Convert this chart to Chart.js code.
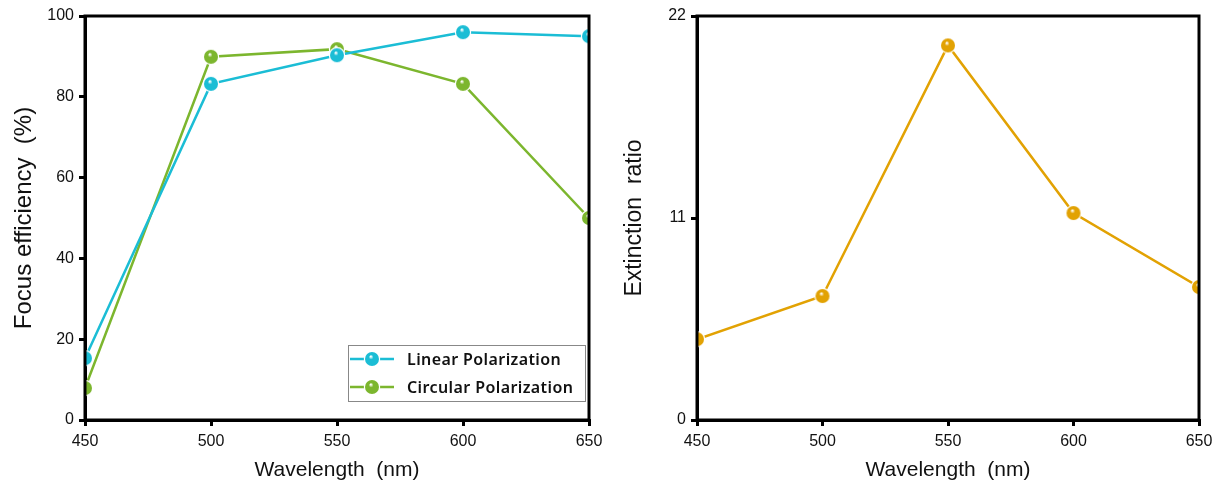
<!DOCTYPE html>
<html>
<head>
<meta charset="utf-8">
<script src="https://cdn.jsdelivr.net/npm/chart.js@4.4.1/dist/chart.umd.min.js"></script>
<style>
  body { margin: 0; background: #fff; }
  #wrap { position: relative; width: 1222px; height: 487px; }
  canvas { position: absolute; top: 0; }
  #left { left: 0; }
  #right { left: 611px; }
</style>
</head>
<body>
<div id="wrap">
  <canvas id="left" width="611" height="487"></canvas>
  <canvas id="right" width="611" height="487"></canvas>
</div>
<script>
// data
const wavelengths = [450, 500, 550, 600, 650];
const linearPol = [15.3, 83.2, 90.3, 96.0, 95.0];
const circularPol = [7.9, 89.9, 91.8, 83.2, 50.0];
const extinctionRatio = [4.4, 6.75, 20.4, 11.27, 7.24];
const effTicks = [0, 20, 40, 60, 80, 100];
const ratioTicks = [0, 11, 22];

const CYAN = '#1bbdd5';
const GREEN = '#7cb62e';
const ORANGE = '#e2a203';
const FONT = '"Liberation Sans", Arial, sans-serif';

// little shaded ball used as marker
function makeBall(color, r) {
    const c = document.createElement('canvas');
    const size = Math.ceil(r * 2 + 4);
    c.width = size;
    c.height = size;
    const g = c.getContext('2d');
    const m = size / 2;
    g.beginPath();
    g.arc(m, m, r + 1.2, 0, Math.PI * 2);
    g.fillStyle = '#fff';
    g.fill();
    const grad = g.createRadialGradient(m - 1.2, m - 2.6, 0.4, m, m, r);
    grad.addColorStop(0, '#ffffff');
    grad.addColorStop(0.3, color);
    grad.addColorStop(1, color);
    g.beginPath();
    g.arc(m, m, r, 0, Math.PI * 2);
    g.fillStyle = grad;
    g.fill();
    return c;
}

function toPoints(ys) {
    return wavelengths.map((x, i) => ({ x: x, y: ys[i] }));
}

function lineSet(label, ys, color) {
    return {
        label: label,
        data: toPoints(ys),
        borderColor: color,
        backgroundColor: color,
        borderWidth: 2.5,
        pointStyle: makeBall(color, 7),
        pointRadius: 7,
        tension: 0,
        clip: 0
    };
}

// frame round the plot area
const framePlugin = {
    id: 'frame',
    afterDatasetsDraw(chart) {
        const a = chart.chartArea;
        const ctx = chart.ctx;
        ctx.save();
        ctx.strokeStyle = '#000';
        ctx.lineWidth = 3;
        ctx.strokeRect(a.left, a.top, a.right - a.left, a.bottom - a.top);
        ctx.restore();
    }
};

// boxed legend inside the lower right of the left plot
const boxLegend = {
    id: 'boxLegend',
    afterDraw(chart) {
        const ctx = chart.ctx;
        const x0 = 348, y0 = 345, w = 237, h = 56;
        ctx.save();
        ctx.fillStyle = '#fff';
        ctx.fillRect(x0, y0, w, h);
        ctx.strokeStyle = '#888';
        ctx.lineWidth = 1;
        ctx.strokeRect(x0 + 0.5, y0 + 0.5, w, h);
        chart.data.datasets.forEach((ds, i) => {
            const cy = 359 + i * 28;
            ctx.strokeStyle = ds.borderColor;
            ctx.lineWidth = 2.5;
            ctx.beginPath();
            ctx.moveTo(350, cy);
            ctx.lineTo(394, cy);
            ctx.stroke();
            const img = ds.pointStyle;
            ctx.drawImage(img, 372 - img.width / 2, cy - img.height / 2);
            ctx.fillStyle = '#111';
            ctx.font = '600 16px "Noto Sans", sans-serif';
            ctx.letterSpacing = '0.4px';
            ctx.textBaseline = 'middle';
            ctx.fillText(ds.label, 407, cy + 1);
        });
        ctx.restore();
    }
};

function axisX() {
    return {
        type: 'linear',
        min: 450,
        max: 650,
        afterFit(scale) { scale.height = 67; },
        afterBuildTicks(scale) { scale.ticks = wavelengths.map(v => ({ value: v })); },
        border: { color: '#000', width: 3 },
        grid: { drawOnChartArea: false, color: '#000', lineWidth: 3, tickLength: 6 },
        ticks: { color: '#111', font: { family: FONT, size: 16 }, padding: 6, maxRotation: 0 },
        title: {
            display: true,
            text: 'Wavelength  (nm)',
            color: '#111',
            font: { family: FONT, size: 21 },
            padding: { top: 0, bottom: 4 }
        }
    };
}

function axisY(ticks, title, width, size) {
    return {
        min: ticks[0],
        max: ticks[ticks.length - 1],
        afterFit(scale) { scale.width = width; },
        afterBuildTicks(scale) { scale.ticks = ticks.map(v => ({ value: v })); },
        border: { color: '#000', width: 3 },
        grid: { drawOnChartArea: false, color: '#000', lineWidth: 3, tickLength: 6 },
        ticks: { color: '#111', font: { family: FONT, size: 16 }, padding: 5 },
        title: {
            display: true,
            text: title,
            color: '#111',
            font: { family: FONT, size: size },
            padding: { top: 10, bottom: 0 }
        }
    };
}

const common = {
    responsive: false,
    animation: false,
    events: [],
    plugins: { legend: { display: false }, tooltip: { enabled: false } }
};

new Chart(document.getElementById('left'), {
    type: 'line',
    data: {
        datasets: [
            lineSet('Linear Polarization', linearPol, CYAN),
            lineSet('Circular Polarization', circularPol, GREEN)
        ]
    },
    options: Object.assign({}, common, {
        layout: { padding: { top: 16, right: 22, left: 0, bottom: 0 } },
        scales: { x: axisX(), y: axisY(effTicks, 'Focus efficiency  (%)', 85, 24) }
    }),
    plugins: [framePlugin, boxLegend]
});

new Chart(document.getElementById('right'), {
    type: 'line',
    data: {
        datasets: [lineSet('Extinction ratio', extinctionRatio, ORANGE)]
    },
    options: Object.assign({}, common, {
        layout: { padding: { top: 16, right: 23, left: 0, bottom: 0 } },
        scales: { x: axisX(), y: axisY(ratioTicks, 'Extinction  ratio', 86, 23) }
    }),
    plugins: [framePlugin]
});
</script>
</body>
</html>
